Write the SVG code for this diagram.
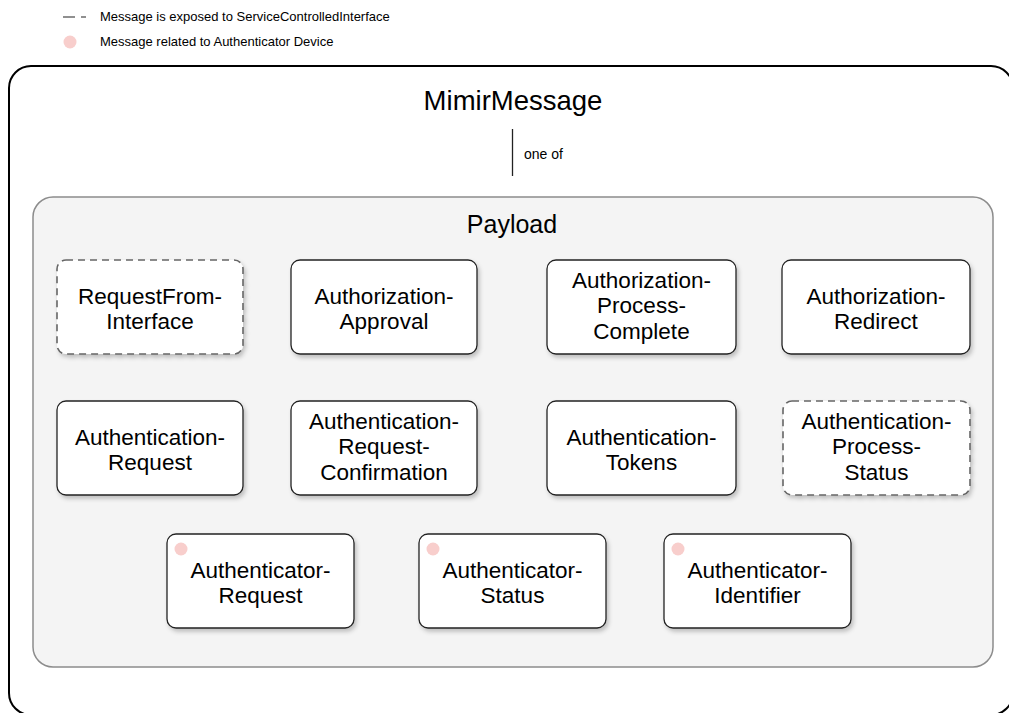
<svg xmlns="http://www.w3.org/2000/svg" width="1009" height="713" viewBox="0 0 1009 713">
  <defs>
    <filter id="shadow" x="-10%" y="-10%" width="125%" height="130%">
      <feDropShadow dx="2" dy="3" stdDeviation="2" flood-color="#000" flood-opacity="0.22"/>
    </filter>
    <style>
      .txt { font-family: "Liberation Sans", Arial, Helvetica, sans-serif; fill: #000; }
      .node rect { fill: #fff; stroke: #222; stroke-width: 1.3; filter: url(#shadow); }
      .node.exposed rect { stroke: #666; stroke-width: 1.6; stroke-dasharray: 7 5; }
      .node text { font-size: 22.5px; text-anchor: middle; }
      .dot { fill: #f8cecc; }
      .legend { font-size: 13px; }
    </style>
  </defs>

  <rect width="1009" height="713" fill="#fff"/>

  <!-- legend -->
  <g id="legend">
    <line x1="63" y1="17" x2="86" y2="17" stroke="#222" stroke-width="1.2" stroke-dasharray="12 6 5 10"/>
    <text class="txt legend" x="100" y="21">Message is exposed to ServiceControlledInterface</text>
    <circle class="dot" cx="70" cy="42" r="6.5"/>
    <text class="txt legend" x="100" y="46">Message related to Authenticator Device</text>
  </g>

  <!-- outer message container -->
  <g id="mimir-message">
    <rect x="9" y="66" width="1004" height="649" rx="22" ry="22" fill="#fff" stroke="#000" stroke-width="2"/>
    <text class="txt" x="513" y="110" font-size="27.5" text-anchor="middle">MimirMessage</text>
  </g>

  <!-- connectors -->
  <g id="connectors">
    <line x1="512.5" y1="129" x2="512.5" y2="176" stroke="#222" stroke-width="1.3"/>
    <text class="txt" x="524" y="159" font-size="14">one of</text>
  </g>

  <!-- payload container -->
  <g id="payload">
    <rect x="33" y="197" width="960" height="470" rx="20" ry="20" fill="#f4f4f4" stroke="#8c8c8c" stroke-width="1.5"/>
    <text class="txt" x="512" y="233" font-size="25" text-anchor="middle">Payload</text>
  </g>

  <!-- row 1 -->
  <g id="request-from-interface" class="node exposed">
    <rect x="57" y="260" width="186" height="94" rx="9"/>
    <text class="txt" x="150" y="304">RequestFrom-</text>
    <text class="txt" x="150" y="329">Interface</text>
  </g>
  <g id="authorization-approval" class="node">
    <rect x="291" y="260" width="186" height="94" rx="9"/>
    <text class="txt" x="384" y="304">Authorization-</text>
    <text class="txt" x="384" y="329">Approval</text>
  </g>
  <g id="authorization-process-complete" class="node">
    <rect x="547" y="260" width="189" height="94" rx="9"/>
    <text class="txt" x="641.5" y="288">Authorization-</text>
    <text class="txt" x="641.5" y="313">Process-</text>
    <text class="txt" x="641.5" y="339">Complete</text>
  </g>
  <g id="authorization-redirect" class="node">
    <rect x="782" y="260" width="188" height="94" rx="9"/>
    <text class="txt" x="876" y="304">Authorization-</text>
    <text class="txt" x="876" y="329">Redirect</text>
  </g>

  <!-- row 2 -->
  <g id="authentication-request" class="node">
    <rect x="57" y="401" width="186" height="94" rx="9"/>
    <text class="txt" x="150" y="445">Authentication-</text>
    <text class="txt" x="150" y="470">Request</text>
  </g>
  <g id="authentication-request-confirmation" class="node">
    <rect x="291" y="401" width="186" height="94" rx="9"/>
    <text class="txt" x="384" y="429">Authentication-</text>
    <text class="txt" x="384" y="454">Request-</text>
    <text class="txt" x="384" y="480">Confirmation</text>
  </g>
  <g id="authentication-tokens" class="node">
    <rect x="547" y="401" width="189" height="94" rx="9"/>
    <text class="txt" x="641.5" y="445">Authentication-</text>
    <text class="txt" x="641.5" y="470">Tokens</text>
  </g>
  <g id="authentication-process-status" class="node exposed">
    <rect x="783" y="401" width="187" height="94" rx="9"/>
    <text class="txt" x="876.5" y="429">Authentication-</text>
    <text class="txt" x="876.5" y="454">Process-</text>
    <text class="txt" x="876.5" y="480">Status</text>
  </g>

  <!-- row 3: authenticator device messages -->
  <g id="authenticator-request" class="node">
    <rect x="167" y="534" width="187" height="94" rx="9"/>
    <circle class="dot" cx="181" cy="549" r="6.5"/>
    <text class="txt" x="260.5" y="578">Authenticator-</text>
    <text class="txt" x="260.5" y="603">Request</text>
  </g>
  <g id="authenticator-status" class="node">
    <rect x="419" y="534" width="187" height="94" rx="9"/>
    <circle class="dot" cx="433" cy="549" r="6.5"/>
    <text class="txt" x="512.5" y="578">Authenticator-</text>
    <text class="txt" x="512.5" y="603">Status</text>
  </g>
  <g id="authenticator-identifier" class="node">
    <rect x="664" y="534" width="187" height="94" rx="9"/>
    <circle class="dot" cx="678" cy="549" r="6.5"/>
    <text class="txt" x="757.5" y="578">Authenticator-</text>
    <text class="txt" x="757.5" y="603">Identifier</text>
  </g>
</svg>
